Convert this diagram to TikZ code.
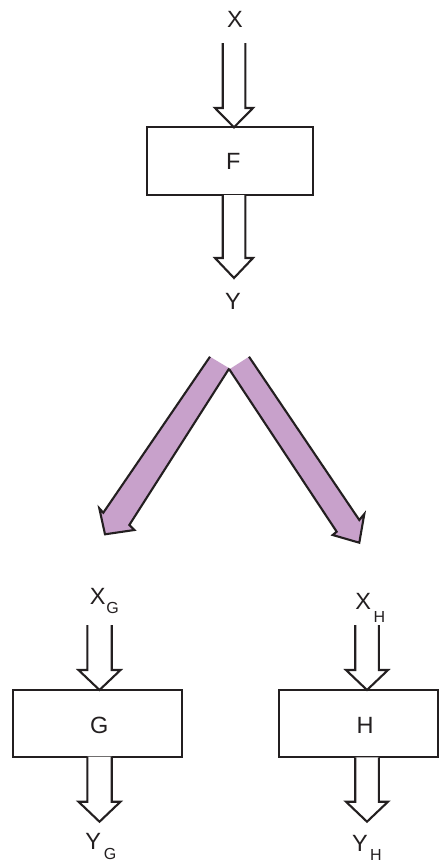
\documentclass[tikz,border=0pt]{standalone}
\usepackage{fontspec}
\setmainfont{Liberation Sans}
\definecolor{ink}{RGB}{35,31,32}
\definecolor{purp}{RGB}{200,161,203}
\newcommand\hollowarr[6]{%
 \fill[white] ({#1-#5},#2) -- ({#1-#5},#3) -- ({#1-#6},#3) -- (#1,#4) -- ({#1+#6},#3) -- ({#1+#5},#3) -- ({#1+#5},#2) -- cycle;
 \draw[ln] ({#1-#5},#2) -- ({#1-#5},#3) -- ({#1-#6},#3) -- (#1,#4) -- ({#1+#6},#3) -- ({#1+#5},#3) -- ({#1+#5},#2);
}
\begin{document}
\begin{tikzpicture}[x=1pt,y=-1pt,
  ln/.style={draw=ink,line width=2.1pt,line join=miter},
  box/.style={ln,fill=white,inner sep=0pt},
  lbl/.style={inner sep=0pt,text=ink,font=\fontsize{23.5}{23.5}\selectfont},
  sub/.style={inner sep=0pt,text=ink,font=\fontsize{16}{16}\selectfont}]
\useasboundingbox (0,0) rectangle (439,863);
% boxes
\node[box,minimum width=165.4pt,minimum height=67.7pt] (F) at (230,161.2) {};
\node[box,minimum width=168.4pt,minimum height=66.7pt] (G) at (97.5,723.3) {};
\node[box,minimum width=159pt,minimum height=67.3pt] (H) at (358.5,723.6) {};
% labels
\node[lbl] (tF) at (233.3,161.7) {F};
\node[lbl] (tG) at (99.3,725) {G};
\node[lbl] (tH) at (365,725) {H};
\node[lbl] (X) at (235,19) {X};
\node[lbl] (Y) at (233,301.5) {Y};
\node[lbl] (XG) at (97.7,596.7) {X};
\node[sub] (XGs) at (112.5,607.5) {G};
\node[lbl] (YG) at (93.3,841.7) {Y};
\node[sub] (YGs) at (110,853.5) {G};
\node[lbl] (XH) at (363.3,601.7) {X};
\node[sub] (XHs) at (379.5,616.7) {H};
\node[lbl] (YH) at (360,843.3) {Y};
\node[sub] (YHs) at (375.8,855.3) {H};
% hollow arrows
\hollowarr{234}{43}{108}{127.3}{11.3}{19}
\hollowarr{234}{195}{258}{278}{11.3}{19}
\hollowarr{99.5}{625}{670}{690}{12.2}{21}
\hollowarr{99.5}{756.7}{801.7}{821.7}{12.2}{21}
\hollowarr{367}{625}{670}{690}{11.8}{21}
\hollowarr{367}{757.3}{801.7}{821.7}{11.8}{21}
% purple arrows
\fill[purp] (210,356.7) -- (103.3,512.7) -- (99.3,508.3) -- (105,534.3) -- (134.3,530) -- (129.3,525) -- (229.3,368.3) -- cycle;
\draw[ln] (210,356.7) -- (103.3,512.7) -- (99.3,508.3) -- (105,534.3) -- (134.3,530) -- (129.3,525) -- (229.3,368.3);
\fill[purp] (249,356.7) -- (359.3,520) -- (364.3,514) -- (359.3,542.7) -- (332.7,535) -- (336.7,531.7) -- (229.3,369.3) -- cycle;
\draw[ln] (249,356.7) -- (359.3,520) -- (364.3,514) -- (359.3,542.7) -- (332.7,535) -- (336.7,531.7) -- (229.3,369.3);
\end{tikzpicture}
\end{document}
